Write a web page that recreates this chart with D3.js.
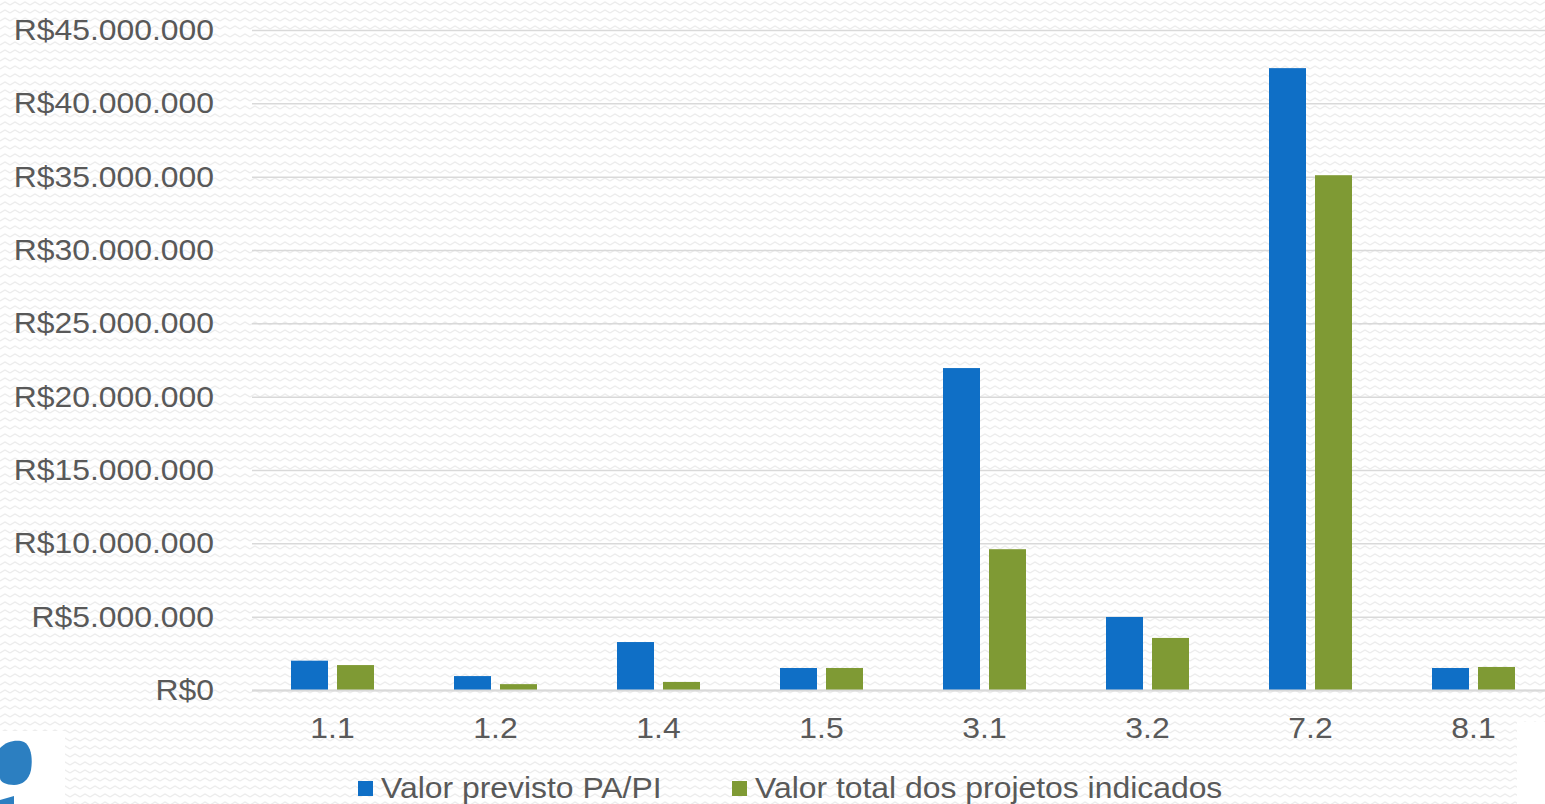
<!DOCTYPE html>
<html>
<head>
<meta charset="utf-8">
<script src="https://cdn.jsdelivr.net/npm/d3@7"></script>
<style>
	html, body { margin: 0; padding: 0; background: #fff; overflow: hidden; }
	svg text { font-family: "Liberation Sans", Arial, sans-serif; fill: #595959; }
</style>
</head>
<body>
<div id="chart"></div>
<script>

// data
const categories = ["1.1", "1.2", "1.4", "1.5", "3.1", "3.2", "7.2", "8.1"];
const valorPrevisto = [2000000, 950000, 3270000, 1500000, 21950000, 4980000, 42400000, 1500000];
const valorIndicados = [1700000, 400000, 550000, 1500000, 9600000, 3550000, 35100000, 1570000];
const seriesNames = ["Valor previsto PA/PI", "Valor total dos projetos indicados"];
const seriesColors = ["#0f6fc6", "#7f9a34"];
const yTicks = [0, 5000000, 10000000, 15000000, 20000000, 25000000, 30000000, 35000000, 40000000, 45000000];

const width = 1545;
const height = 804;
const stretch = 1.1; // slide text is stretched horizontally

let svg = d3.select("#chart")
	.append("svg")
	.attr("width", width)
	.attr("height", height);

// zigzag background
let defs = svg.append("defs");
let pat = defs.append("pattern")
	.attr("id", "zig")
	.attr("patternUnits", "userSpaceOnUse")
	.attr("width", 10)
	.attr("height", 8);
pat.append("rect").attr("width", 10).attr("height", 8).attr("fill", "#fff");
pat.append("path")
	.attr("d", "M0,5 L5,2 L10,5")
	.attr("fill", "none")
	.attr("stroke", "#ececec")
	.attr("stroke-width", 1.3);

svg.append("rect")
	.attr("width", width)
	.attr("height", height)
	.attr("fill", "url(#zig)");

// white patches from the slide
svg.append("rect").attr("x", 0).attr("y", 731).attr("width", 65).attr("height", 73).attr("fill", "#fff");
svg.append("rect").attr("x", 1517).attr("y", 722).attr("width", 28).attr("height", 82).attr("fill", "#fff");
svg.append("path")
	.attr("d", "M0,748 C6,741 18,739 24,742 C31,746 33,758 31,770 C29,780 22,785 14,785 C6,785 0,782 0,778 Z")
	.attr("fill", "#2c7fc1");
svg.append("path")
	.attr("d", "M0,800 L14,796 L14,804 L0,804 Z")
	.attr("fill", "#2c7fc1");

// scales
const x0 = d3.scaleBand()
	.domain(categories)
	.range([251, 1555])
	.paddingInner(0)
	.paddingOuter(0);

const y = d3.scaleLinear()
	.domain([0, 45000000])
	.range([690, 30]);

const barW = 37;
const barGap = 9;

const fmt = v => "R$" + d3.format(",")(v).replace(/,/g, ".");
const place = (px, py) => "translate(" + px + "," + py + ") scale(" + stretch + ",1)";

// gridlines
svg.append("g")
	.selectAll("line")
	.data(yTicks)
	.join("line")
	.attr("x1", 252)
	.attr("x2", width)
	.attr("y1", d => y(d) + 0.5)
	.attr("y2", d => y(d) + 0.5)
	.attr("stroke", "#d9d9d9")
	.attr("stroke-width", 1.5);

// y labels
svg.append("g")
	.selectAll("text")
	.data(yTicks)
	.join("text")
	.attr("transform", d => place(214, y(d) + 10))
	.attr("text-anchor", "end")
	.attr("font-size", "29px")
	.text(d => fmt(d));

// bars
const series = [valorPrevisto, valorIndicados];
series.forEach((vals, s) => {
	svg.append("g")
		.selectAll("rect")
		.data(vals)
		.join("rect")
		.attr("x", (d, i) => x0(categories[i]) + x0.bandwidth() / 2 + (s === 0 ? -barGap / 2 - barW : barGap / 2))
		.attr("y", d => y(d))
		.attr("width", barW)
		.attr("height", d => y(0) - y(d))
		.attr("fill", seriesColors[s]);
});

// zero axis line
svg.append("line")
	.attr("x1", 252)
	.attr("x2", width)
	.attr("y1", y(0) + 0.5)
	.attr("y2", y(0) + 0.5)
	.attr("stroke", "#d9d9d9")
	.attr("stroke-width", 2);

// x labels
svg.append("g")
	.selectAll("text")
	.data(categories)
	.join("text")
	.attr("transform", d => place(x0(d) + x0.bandwidth() / 2, 738))
	.attr("text-anchor", "middle")
	.attr("font-size", "29px")
	.text(d => d);

// legend
const legendX = [358, 732];
let legend = svg.append("g");
seriesNames.forEach((name, i) => {
	legend.append("rect")
		.attr("x", legendX[i])
		.attr("y", 781)
		.attr("width", 15)
		.attr("height", 15)
		.attr("fill", seriesColors[i]);
	legend.append("text")
		.attr("transform", place(legendX[i] + 23, 798))
		.attr("font-size", "29px")
		.text(name);
});

</script>
</body>
</html>
